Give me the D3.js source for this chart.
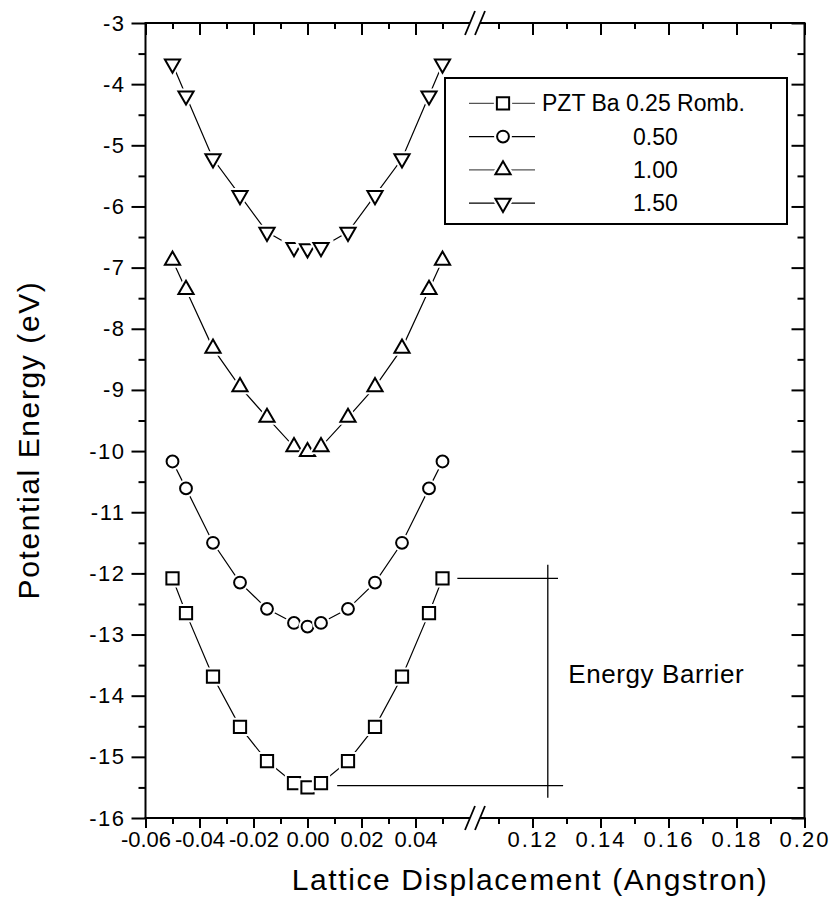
<!DOCTYPE html>
<html>
<head>
<meta charset="utf-8">
<script src="https://cdn.jsdelivr.net/npm/d3@7"></script>
<style>
  body { margin: 0; background: #fff; }
  svg text { font-family: "Liberation Sans", Arial, sans-serif; fill: #000; }
</style>
</head>
<body>
<div id="chart"></div>
<script>
// data
var dispX = [-0.05, -0.045, -0.035, -0.025, -0.015, -0.005, 0, 0.005, 0.015, 0.025, 0.035, 0.045, 0.05];
var ba025 = [-12.08, -12.65, -13.69, -14.51, -15.07, -15.43, -15.50, -15.43, -15.07, -14.51, -13.69, -12.65, -12.08];
var ba050 = [-10.17, -10.61, -11.50, -12.15, -12.58, -12.81, -12.87, -12.81, -12.58, -12.15, -11.50, -10.61, -10.17];
var ba100 = [-6.88, -7.36, -8.32, -8.95, -9.45, -9.93, -10.01, -9.93, -9.45, -8.95, -8.32, -7.36, -6.88];
var ba150 = [-3.67, -4.19, -5.22, -5.82, -6.42, -6.67, -6.69, -6.67, -6.42, -5.82, -5.22, -4.19, -3.67];
var legendLabels = ['PZT Ba 0.25 Romb.', '0.50', '1.00', '1.50'];

// axis ticks
var xTicksLeft = [-0.06, -0.04, -0.02, 0.00, 0.02, 0.04];
var xMinorLeft = [-0.05, -0.03, -0.01, 0.01, 0.03, 0.05];
var xTicksRight = [0.12, 0.14, 0.16, 0.18, 0.20];
var xMinorRight = [0.11, 0.13, 0.15, 0.17, 0.19];
var yTicks = [-3, -4, -5, -6, -7, -8, -9, -10, -11, -12, -13, -14, -15, -16];
var yMinor = [-3.5, -4.5, -5.5, -6.5, -7.5, -8.5, -9.5, -10.5, -11.5, -12.5, -13.5, -14.5, -15.5];

(function () {
    var W = 837, H = 908;
    var pL = 145.5, pR = 804.5, pT = 23, pB = 818;
    var brk = 475; // axis break position

    var svg = d3.select('#chart').append('svg')
        .attr('width', W)
        .attr('height', H);

    var y = d3.scaleLinear().domain([-16, -3]).range([pB, pT]);
    var xL = d3.scaleLinear().domain([-0.06, 0.06]).range([pL, pL + 0.12 * 2700]);
    var xR = d3.scaleLinear().domain([0.105, 0.20]).range([pR - 0.095 * 3400, pR]);

    // plain hyphen like the original print
    var fmtX = function (d) { return d3.format('.2f')(d).replace('\u2212', '-'); };
    var fmtY = function (d) { return d3.format('d')(d).replace('\u2212', '-'); };

    // helper: add an axis, drop its domain path
    function addAxis(axis, tx, ty, spacing) {
        var g = svg.append('g')
            .attr('transform', 'translate(' + tx + ',' + ty + ')')
            .call(axis);
        g.select('.domain').remove();
        g.selectAll('line').attr('stroke', '#000').attr('stroke-width', 2);
        g.selectAll('text')
            .style('font-size', '22px')
            .style('letter-spacing', (spacing || 0) + 'px')
            .attr('fill', '#000');
        return g;
    }

    // bottom axis (outward ticks, labels) and top axis (inward)
    [xL, xR].forEach(function (sc, i) {
        var maj = i === 0 ? xTicksLeft : xTicksRight;
        var mnr = i === 0 ? xMinorLeft : xMinorRight;
        addAxis(d3.axisBottom(sc).tickValues(maj).tickSize(10).tickPadding(3).tickFormat(fmtX), 0, pB, i === 0 ? 0 : 2);
        addAxis(d3.axisBottom(sc).tickValues(mnr).tickSize(6).tickFormat(''), 0, pB);
        addAxis(d3.axisTop(sc).tickValues(maj).tickSize(-12).tickFormat(''), 0, pT);
        addAxis(d3.axisTop(sc).tickValues(mnr).tickSize(-6).tickFormat(''), 0, pT);
    });

    // left axis (outward) and right axis (inward)
    addAxis(d3.axisLeft(y).tickValues(yTicks).tickSize(14).tickPadding(6).tickFormat(fmtY), pL, 0, 1.5);
    addAxis(d3.axisLeft(y).tickValues(yMinor).tickSize(7).tickFormat(''), pL, 0);
    addAxis(d3.axisRight(y).tickValues(yTicks).tickSize(-13).tickFormat(''), pR, 0);
    addAxis(d3.axisRight(y).tickValues(yMinor).tickSize(-7).tickFormat(''), pR, 0);

    // frame with break marks
    var frame = svg.append('g').attr('stroke', '#000').attr('stroke-width', 2).attr('fill', 'none');
    [pT, pB].forEach(function (yy) {
        frame.append('line').attr('x1', pL - 1).attr('x2', brk - 5).attr('y1', yy).attr('y2', yy);
        frame.append('line').attr('x1', brk + 5).attr('x2', pR + 1).attr('y1', yy).attr('y2', yy);
        [-5, 5].forEach(function (dx) {
            frame.append('line')
                .attr('x1', brk + dx - 5).attr('y1', yy + 12)
                .attr('x2', brk + dx + 5).attr('y2', yy - 12)
                .attr('stroke-width', 1.8);
        });
    });
    frame.append('line').attr('x1', pL).attr('x2', pL).attr('y1', pT).attr('y2', pB);
    frame.append('line').attr('x1', pR).attr('x2', pR).attr('y1', pT).attr('y2', pB);

    // axis titles
    svg.append('text')
        .attr('x', 530)
        .attr('y', 890)
        .attr('text-anchor', 'middle')
        .style('font-size', '30px')
        .style('letter-spacing', '1.6px')
        .text('Lattice Displacement (Angstron)');

    svg.append('text')
        .attr('transform', 'translate(39,440) rotate(-90)')
        .attr('text-anchor', 'middle')
        .style('font-size', '30px')
        .style('letter-spacing', '1.6px')
        .text('Potential Energy (eV)');

    // series
    var series = [
        { name: legendLabels[0], values: ba025, shape: d3.symbolSquare, size: 150, rot: 0 },
        { name: legendLabels[1], values: ba050, shape: d3.symbolCircle, size: 110, rot: 0 },
        { name: legendLabels[2], values: ba100, shape: d3.symbolTriangle, size: 100, rot: 0 },
        { name: legendLabels[3], values: ba150, shape: d3.symbolTriangle, size: 100, rot: 180 }
    ];

    var line = d3.line()
        .x(function (d) { return xL(d[0]); })
        .y(function (d) { return y(d[1]); });

    function drawMarker(g, s, cx, cy) {
        var p = d3.symbol().type(s.shape).size(s.size)();
        var tr = 'translate(' + cx + ',' + cy + ') rotate(' + s.rot + ')';
        // white halo gives the small gap between line and marker
        g.append('path').attr('d', p).attr('transform', tr)
            .attr('fill', '#fff').attr('stroke', '#fff').attr('stroke-width', 6);
        g.append('path').attr('d', p).attr('transform', tr)
            .attr('fill', '#fff').attr('stroke', '#000').attr('stroke-width', 2);
    }

    series.forEach(function (s) {
        var pts = dispX.map(function (x, i) { return [x, s.values[i]]; });
        var g = svg.append('g');
        g.append('path')
            .datum(pts)
            .attr('d', line)
            .attr('fill', 'none')
            .attr('stroke', '#000')
            .attr('stroke-width', 1.2);
        pts.forEach(function (d) { drawMarker(g, s, xL(d[0]), y(d[1])); });
    });

    // energy barrier annotation
    var eMax = d3.max(ba025), eMin = d3.min(ba025);
    var ann = svg.append('g').attr('stroke', '#000').attr('stroke-width', 1.3);
    ann.append('line').attr('x1', xL(0.0555)).attr('x2', xR(0.1275)).attr('y1', y(eMax)).attr('y2', y(eMax));
    ann.append('line').attr('x1', xL(0.011)).attr('x2', xR(0.129)).attr('y1', y(eMin + 0.03)).attr('y2', y(eMin + 0.03));
    ann.append('line').attr('x1', xR(0.1245)).attr('x2', xR(0.1245)).attr('y1', y(-11.86)).attr('y2', y(-15.67));
    svg.append('text')
        .attr('x', xR(0.1305))
        .attr('y', y(-13.79))
        .style('font-size', '26px')
        .style('letter-spacing', '0.6px')
        .text('Energy Barrier');

    // legend
    var lg = svg.append('g');
    lg.append('rect')
        .attr('x', 445).attr('y', 78)
        .attr('width', 342).attr('height', 146)
        .attr('fill', '#fff').attr('stroke', '#000').attr('stroke-width', 2);
    series.forEach(function (s, i) {
        var cy = 103.3 + i * 33.3;
        lg.append('line').attr('x1', 469).attr('x2', 535).attr('y1', cy).attr('y2', cy)
            .attr('stroke', i % 2 === 0 ? '#555' : '#000').attr('stroke-width', 1.2);
        drawMarker(lg, s, 503, cy);
        lg.append('text')
            .attr('x', i === 0 ? 542 : 633)
            .attr('y', cy + 8)
            .style('font-size', '23px')
            .text(s.name);
    });
})();
</script>
</body>
</html>
